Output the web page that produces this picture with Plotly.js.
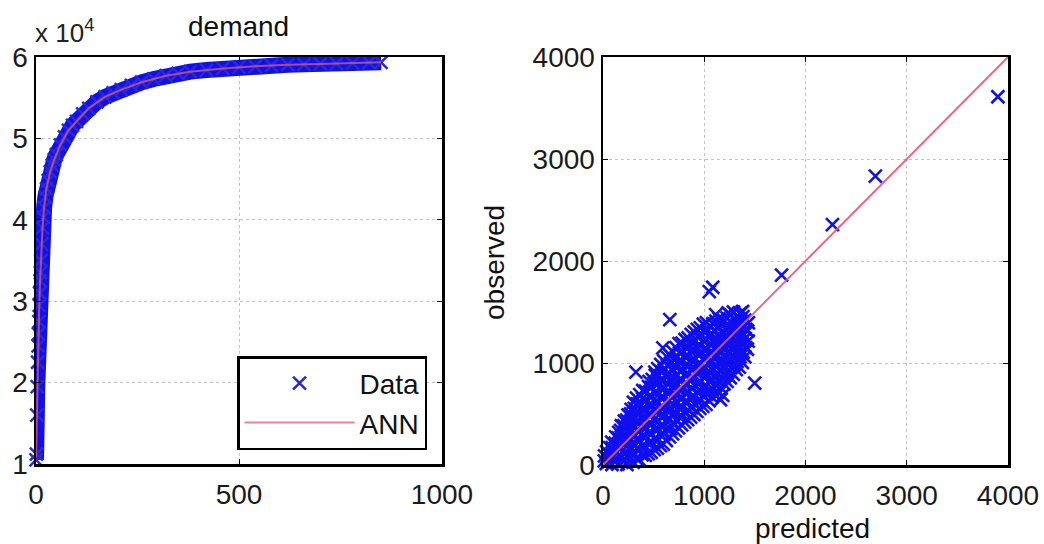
<!DOCTYPE html>
<html><head><meta charset="utf-8">
<script src="https://cdn.plot.ly/plotly-3.0.1.min.js"></script>
<style>html,body{margin:0;padding:0;background:#fff}#chart{width:1044px;height:544px}</style>
</head><body><div id="chart"></div>
<script>
// ---- left panel: demand ----
const demandX = [0,1,2,3,4,5,6,7,8,9,10,11,12,14,16,18,20,23,26,30,35,40,45,50,60,70,80,90,100,115,130,150,170,190,210,235,260,290,320,350,380,420,460,500,540,580,620,660,700,740,780,820,850];
const demandY = [10500,11200,16000,19500,22500,24500,26000,27500,29500,31000,32500,33500,35000,37000,39000,40300,41500,42800,43800,44800,45900,46700,47400,48000,49200,50200,51000,51600,52100,53000,53700,54500,55100,55600,56000,56500,56900,57300,57700,58000,58200,58400,58600,58750,58850,58950,59050,59100,59150,59200,59250,59300,59350];
const annX = [0,2,4,6,8,10,12,16,20,26,35,45,60,80,100,130,170,210,260,320,380,460,540,620,700,780,850];
const annY = [10800,15800,22300,26100,29400,32400,35100,39000,41600,43900,45900,47400,49200,51000,52100,53700,55100,56000,56900,57700,58200,58600,58850,59050,59150,59250,59350];
const leftYTicks = [10000,20000,30000,40000,50000,60000];
const leftYText = ['1','2','3','4','5','6'];
const leftXTicks = [0,500,1000];

// ---- right panel: predicted vs observed ----
const predicted = [
  8,12,15,
  33,38,36,
  55,62,58,65,
  88,93,91,86,
  118,124,115,121,126,
  148,153,146,151,155,
  176,183,179,185,174,181,
  207,213,209,215,205,211,
  236,243,238,245,240,234,247,
  267,274,269,276,265,272,278,
  297,304,299,306,295,302,308,301,
  327,334,329,336,325,332,338,331,
  356,364,358,362,355,366,360,363,
  386,394,388,392,385,396,390,393,
  417,424,419,426,415,422,428,420,
  447,454,449,456,445,452,458,450,455,
  476,485,479,483,474,488,481,477,486,
  506,515,509,513,504,518,511,507,516,512,
  537,544,539,546,535,542,548,538,545,541,
  567,574,569,576,565,572,578,568,575,571,
  596,604,599,606,594,602,608,597,605,601,
  626,634,629,636,624,632,638,627,635,631,
  657,664,659,666,655,662,668,658,665,661,
  687,694,689,696,685,692,698,688,695,691,
  716,724,719,726,714,722,728,717,725,721,
  746,754,749,756,744,752,758,747,755,751,
  777,784,779,786,775,782,788,778,785,781,
  807,814,809,816,805,812,818,808,815,811,
  836,844,839,846,834,842,848,837,845,841,
  866,874,869,876,864,872,878,867,875,871,
  897,904,899,906,895,902,908,898,905,901,
  927,934,929,936,925,932,938,928,935,931,
  956,964,959,966,954,962,968,957,965,961,
  986,994,989,996,984,992,998,987,995,991,
  1017,1024,1019,1026,1015,1022,1028,1018,1025,1021,
  1047,1054,1049,1056,1045,1052,1058,1048,1055,
  1076,1084,1079,1086,1074,1082,1088,1077,1085,
  1106,1114,1109,1116,1104,1112,1118,1107,1115,
  1137,1144,1139,1146,1135,1142,1148,1138,1145,
  1167,1174,1169,1176,1165,1172,1178,1168,
  1196,1204,1199,1206,1194,1202,1208,1197,
  1226,1234,1229,1236,1224,1232,1238,1227,1235,
  1257,1264,1259,1266,1255,1262,1268,1258,
  1287,1294,1289,1296,1285,1292,1298,1288,
  1316,1324,1319,1326,1314,1322,1328,
  1346,1354,1349,1356,1344,1352,1358,
  1377,1384,1379,1386,1375,1382,
  1402,1409,1404,1411,1400,
  1426,1434,1429,1436,
  1084,1050,660,591,325,1498,1182,1160,1113,1379,1764,2266,2690,3900
];
const observed = [
  -10,40,90,
  15,75,130,
  -25,35,105,170,
  5,90,170,225,
  -35,45,130,215,275,
  10,95,180,265,320,
  -20,75,165,255,340,385,
  35,120,215,300,385,430,
  5,95,185,270,365,440,490,
  55,150,240,330,420,500,545,
  25,105,205,285,375,470,555,615,
  65,160,250,345,425,520,600,655,
  55,150,235,330,425,505,600,690,
  100,195,285,375,470,560,650,730,
  95,175,270,365,445,540,635,725,
  110,220,315,410,495,590,680,770,820,
  125,225,305,400,495,580,665,760,840,
  150,265,350,455,540,625,715,805,880,910,
  165,245,345,425,520,615,695,790,875,945,
  190,290,385,470,565,660,745,835,915,985,
  205,300,385,485,565,660,755,835,930,1020,
  240,345,430,530,610,705,800,880,975,1060,
  275,355,455,535,635,715,815,895,995,1075,
  305,400,495,580,675,760,855,940,1035,1110,
  335,435,515,615,695,795,875,975,1055,1150,
  365,475,560,655,740,835,920,1015,1100,1190,
  395,475,575,655,755,835,935,1015,1115,1195,
  420,510,620,700,795,880,975,1060,1150,1230,
  445,535,615,715,795,895,975,1075,1155,1245,
  470,560,660,750,840,935,1020,1115,1195,1280,
  495,595,675,775,855,955,1035,1135,1215,1305,
  525,620,715,800,900,980,1080,1160,1255,1330,
  555,635,735,815,915,995,1095,1175,1275,1345,
  575,670,760,860,945,1040,1130,1220,1310,1380,
  595,695,775,875,955,1055,1135,1235,1315,1395,
  630,720,820,905,1000,1090,1180,1270,1360,
  665,745,845,925,1025,1105,1205,1285,1385,
  690,780,870,960,1050,1140,1230,1320,1410,
  715,815,895,995,1075,1175,1255,1355,1435,
  755,850,935,1025,1115,1205,1295,1380,
  795,875,975,1055,1155,1235,1335,1415,
  820,910,1000,1095,1180,1270,1355,1440,1490,
  855,955,1035,1135,1215,1315,1395,1475,
  890,980,1075,1160,1255,1340,1430,1500,
  935,1015,1115,1195,1295,1375,1465,
  960,1060,1150,1240,1330,1420,1490,
  1005,1105,1185,1285,1365,1455,
  1060,1150,1240,1330,1420,
  1135,1215,1315,1395,
  1743,1700,1426,1148,911,802,683,640,1475,1505,1861,2356,2832,3610
];
const fitX = [0,4000];
const fitY = [0,4000];
const rightTicks = [0,1000,2000,3000,4000];

const FONT = 'Liberation Sans, Arial, Helvetica, sans-serif';
const BLUE = '#1010ee';
const RED = '#e8587a';
const FS = 28;

const traces = [
  {x: demandX, y: demandY, xaxis:'x', yaxis:'y', mode:'lines', line:{color:BLUE, width:16},
   showlegend:false, hoverinfo:'skip'},
  {x: demandX, y: demandY, xaxis:'x', yaxis:'y', mode:'markers', name:'Data', cliponaxis:false,
   marker:{symbol:'x-thin', size:13, line:{color:'#2a2ad0', width:2.5}, color:BLUE}},
  {x: annX, y: annY, xaxis:'x', yaxis:'y', mode:'lines', name:'ANN', line:{color:RED, width:2}, opacity:0.75},
  {x: predicted, y: observed, xaxis:'x2', yaxis:'y2', mode:'markers', showlegend:false, cliponaxis:false,
   marker:{symbol:'x-thin', size:13, line:{color:BLUE, width:2.6}, color:BLUE}},
  {x: fitX, y: fitY, xaxis:'x2', yaxis:'y2', mode:'lines', showlegend:false, line:{color:RED, width:2}, opacity:0.9}
];

function ax(extra){
  return Object.assign({
    showline:true, linecolor:'#000', linewidth:2.5, mirror:'ticks',
    ticks:'inside', ticklen:5, tickcolor:'#000', tickwidth:1,
    showgrid:true, gridcolor:'#c4c4c4', griddash:'dot', gridwidth:1,
    zeroline:false, fixedrange:true,
    tickfont:{family:FONT, size:FS, color:'#1a1a1a'}
  }, extra);
}

const layout = {
  width:1044, height:544,
  margin:{l:0, r:0, t:0, b:0},
  paper_bgcolor:'#fff', plot_bgcolor:'#fff',
  showlegend:true,
  xaxis: ax({domain:[36/1044, 442/1044], range:[0,1000], tickvals:leftXTicks, anchor:'y', ticklabelstandoff:4}),
  yaxis: ax({domain:[1-464/544, 1-57/544], range:[10000,60000], tickvals:leftYTicks, ticktext:leftYText, anchor:'x'}),
  xaxis2: ax({domain:[603/1044, 1008/1044], range:[0,4000], tickvals:rightTicks, anchor:'y2', ticklabelstandoff:4}),
  yaxis2: ax({domain:[1-465/544, 1-57/544], range:[0,4000], tickvals:rightTicks, anchor:'x2'}),
  legend:{x:427/1044, xanchor:'right', y:1-450/544, yanchor:'bottom',
    bgcolor:'#fff', bordercolor:'#000', borderwidth:2.5,
    font:{family:FONT, size:FS, color:'#111'}, itemwidth:110, tracegroupgap:0},
  annotations:[
    {text:'demand', xref:'paper', yref:'paper', x:238/1044, y:1-26/544, showarrow:false,
     xanchor:'center', yanchor:'middle', font:{family:FONT, size:FS, color:'#111'}},
    {text:'x 10<sup>4</sup>', xref:'paper', yref:'paper', x:33/1044, y:1-31/544, showarrow:false,
     xanchor:'left', yanchor:'middle', font:{family:FONT, size:26, color:'#222'}},
    {text:'observed', xref:'paper', yref:'paper', x:494/1044, y:1-263/544, showarrow:false, textangle:-90,
     xanchor:'center', yanchor:'middle', font:{family:FONT, size:FS, color:'#111'}},
    {text:'predicted', xref:'paper', yref:'paper', x:812/1044, y:1-528/544, showarrow:false,
     xanchor:'center', yanchor:'middle', font:{family:FONT, size:FS, color:'#111'}}
  ]
};

Plotly.newPlot('chart', traces, layout, {displayModeBar:false, staticPlot:true});
</script>
</body></html>
